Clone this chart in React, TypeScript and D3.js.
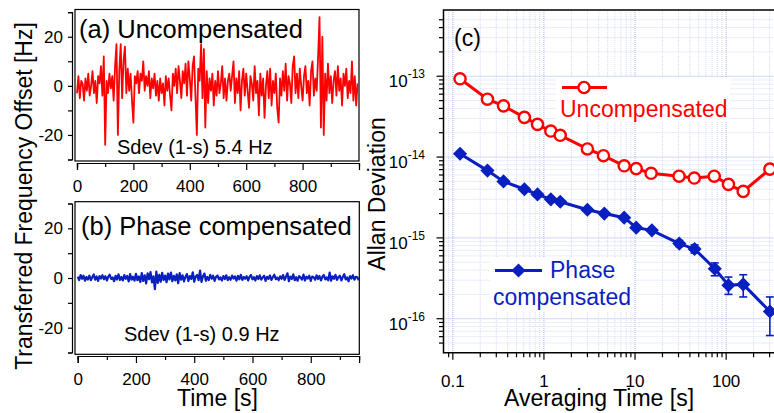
import React, { useEffect, useRef } from 'react';
import * as d3 from 'd3';

const FONT = '"Liberation Sans", Arial, Helvetica, sans-serif';
const RED = '#ff0000';
const BLUE = '#0a1fbf';

// frequency offset traces, one value every 5 s
const sampleStep = 5;
const uncompOffset = [
	-3, 4, -5, 2, 1, -6, 3, -2, 5, -4, 0, 6, -3, 2, -7, 4, 1, 8, -4, 12,
	-24, 2, -3, 5, -1, 4, -6, 8, 17, -20, 6, 17, -5, 10, 16, -3, 7, -2, 5, -6,
	-15, 4, 1, 6, -3, 5, 2, 10, -2, 4, 0, 6, -5, 3, -1, 5, -4, 2, -6, 3,
	-3, 1, -8, 4, -2, 3, -4, -10, 5, 0, 7, -3, 8, 2, -5, 6, 1, 9, -4, 10,
	3, -6, 8, 12, -4, -20, 7, 2, 17, -5, 15, -17, 6, -7, 3, -2, 5, -8, 2, -4,
	6, -3, 1, 8, -5, 3, -6, 2, 5, -2, 4, 10, -7, 3, -3, 6, -10, 2, 7, -4,
	5, -2, -9, 4, 1, -6, 8, -3, 2, -12, 5, -4, 3, -13, 0, 6, -5, 7, -8, 2,
	-3, 5, -9, -15, 3, -4, 6, -2, 9, -6, 4, 1, -7, 8, 12, -3, 5, -5, 7, 0,
	-6, 4, 8, -3, 2, -8, 6, 10, -4, 3, -2, 12, 28, -17, 20, -20, 5, -6, 9, -3,
	4, -7, 2, 6, -4, 8, -2, 3, -8, 5, 0, 7, -5, 2, -3, 10, -6, 4, -8, 1,
];
const compOffset = [
	0.5, -0.8, 1.2, -0.3, 0.9, -1.1, 0.4, -0.6, 1.0, -0.9, 0.3, 1.4, -0.7, 0.6, -1.2, 0.8, -0.2, 1.1, -0.5, 0.7,
	-1.0, 0.5, 1.3, -0.4, 0.2, -1.3, 0.9, -0.6, 1.5, -0.8, 0.4, -1.0, 1.2, -0.3, 0.8, -1.4, 1.6, -0.7, 0.5, -1.1,
	1.7, -0.9, 0.6, -1.6, 2.0, -1.2, 1.1, -2.2, 1.9, -0.5, 2.4, -1.8, 0.7, -4.5, 2.6, -2.0, 1.3, -1.5, 2.1, -0.8,
	1.0, -1.7, 1.8, -0.6, 2.2, -1.3, 0.9, -1.0, 1.5, -2.1, 2.0, -0.7, 1.1, -1.4, 0.5, 1.6, -1.2, 0.8, -0.4, 2.3,
	-1.5, 0.6, 1.2, -0.9, 3.0, -1.6, 0.7, 1.8, -1.1, 0.4, -0.8, 1.3, -0.3, 0.9, -1.2, 0.5, 1.0, -0.6, 0.2, -1.0,
	0.8, -0.4, 1.1, -0.9, 0.3, -0.7, 1.0, -0.2, 0.6, -1.1, 0.9, -0.5, 1.3, -0.8, 0.4, -0.3, 0.7, -1.0, 0.5, 1.2,
	-0.6, 0.3, -1.0, 0.8, -0.4, 1.1, -0.7, 0.2, 0.9, -1.2, 0.5, -0.3, 1.0, -0.8, 0.4, 1.3, -0.5, 0.2, -0.9, 0.7,
	-0.3, 1.2, -0.8, 0.5, 1.9, -1.3, 0.6, -0.4, 1.5, -0.9, 0.3, -1.1, 0.8, 0.2, -0.6, 1.4, -1.0, 0.5, -0.2, 0.9,
	-1.2, 0.6, 0.3, -0.7, 1.1, -0.4, 0.8, -1.0, 0.5, 1.2, -0.6, 0.2, -0.9, 2.2, -1.1, 0.7, -0.3, 1.3, -0.8, 0.4,
	0.9, -1.0, 0.4, 1.5, -0.6, 0.2, -1.3, 0.8, -0.2, 1.1, -0.7, 0.5, 0.3, -0.9,
];
const timeTicks = [0, 200, 400, 600, 800];
const offsetTicks = [-20, 0, 20];

// Allan deviation
const tauUncomp = [0.12, 0.24, 0.36, 0.61, 0.85, 1.19, 1.51, 3.0, 4.5, 7.6, 10.3, 15, 30.4, 44.7, 74, 106, 154, 302];
const adevUncomp = [
	9.3e-14, 5.2e-14, 4.3e-14, 3.1e-14, 2.54e-14, 2.1e-14, 1.86e-14, 1.26e-14, 1.04e-14,
	7.8e-15, 7.2e-15, 6.3e-15, 5.8e-15, 5.5e-15, 5.8e-15, 4.6e-15, 3.76e-15, 7.1e-15,
];
const tauComp = [0.12, 0.24, 0.36, 0.61, 0.85, 1.19, 1.51, 3.0, 4.6, 7.6, 10.3, 15.3, 30.6, 45, 75, 106, 154, 302];
const adevComp = [
	1.1e-14, 6.8e-15, 5.0e-15, 4.0e-15, 3.45e-15, 3.0e-15, 2.8e-15, 2.23e-15, 2.0e-15,
	1.78e-15, 1.34e-15, 1.24e-15, 8.5e-16, 7.3e-16, 4.15e-16, 2.59e-16, 2.66e-16, 1.23e-16,
];
const errTau = [30.6, 45, 75, 106, 154, 302];
const errLow = [7.8e-16, 6.5e-16, 3.4e-16, 2.0e-16, 1.86e-16, 6.2e-17];
const errHigh = [9.3e-16, 8.2e-16, 4.9e-16, 3.28e-16, 3.5e-16, 1.86e-16];
const tauTicks = [0.1, 1, 10, 100];
const tauTickLabels = ['0.1', '1', '10', '100'];
const adevDecades = [-16, -15, -14, -13];

function drawTrace(svg, p) {
	const x = d3.scaleLinear().domain([0, p.xMax]).range(p.xRange);
	const y = d3.scaleLinear().domain([-30, 30]).range(p.yRange);
	const g = svg.append('g');

	g.append('rect')
		.attr('x', p.frame[0])
		.attr('y', p.frame[1])
		.attr('width', p.frame[2] - p.frame[0])
		.attr('height', p.frame[3] - p.frame[1])
		.attr('fill', 'none')
		.attr('stroke', '#000')
		.attr('stroke-width', 1.2);

	const line = d3
		.line()
		.x((d, i) => x(i * sampleStep))
		.y(d => y(d));
	g.append('path')
		.datum(p.values)
		.attr('d', line)
		.attr('fill', 'none')
		.attr('stroke', p.color)
		.attr('stroke-width', p.lineWidth)
		.attr('stroke-linejoin', 'round');

	// left axis, all 10 Hz ticks, labels every 20
	const yAxis = d3
		.axisLeft(y)
		.tickValues(d3.range(-30, 31, 10))
		.tickSize(4)
		.tickPadding(5)
		.tickFormat(d => (offsetTicks.includes(d) ? String(d) : ''));
	g.append('g').attr('transform', `translate(${p.axisX},0)`).call(yAxis);

	const xMinor = d3
		.axisBottom(x)
		.tickValues(d3.range(100, p.xMax, 200))
		.tickSize(4)
		.tickFormat(() => '');
	g.append('g').attr('transform', `translate(0,${p.axisY})`).call(xMinor);
	const xAxis = d3.axisBottom(x).tickValues(timeTicks).tickSize(7).tickPadding(10);
	g.append('g').attr('transform', `translate(0,${p.axisY})`).call(xAxis);

	g.selectAll('.domain').attr('stroke', '#000').attr('stroke-width', 1.2);
	g.selectAll('.tick line').attr('stroke', '#000').attr('stroke-width', 1.2);
	g.selectAll('.tick text').attr('font-size', 17).attr('font-family', FONT).attr('fill', '#000');

	g.append('text')
		.attr('x', p.titlePos[0])
		.attr('y', p.titlePos[1])
		.attr('font-size', 25.5)
		.text(p.title);
	g.append('text')
		.attr('x', p.sdevPos[0])
		.attr('y', p.sdevPos[1])
		.attr('font-size', 20)
		.text(p.sdev);
}

function drawAllan(svg) {
	const x = d3.scaleLog().domain([0.08, 400]).range([444, 781]);
	const y = d3.scaleLog().domain([3.8e-17, 6.6e-13]).range([352.7, 10]);
	const left = 443.5,
		top = 10,
		bottom = 352.7,
		right = 774;
	const g = svg.append('g');

	// minor positions 1..9 x decade
	const xGrid = [];
	for (let n = -2; n <= 2; n++) for (let k = 1; k <= 9; k++) xGrid.push(k * Math.pow(10, n));
	const xMinor = xGrid.filter(v => v > 0.085 && v < 400);
	const yGrid = [];
	for (let n = -17; n <= -13; n++) for (let k = 1; k <= 9; k++) yGrid.push(k * Math.pow(10, n));
	const yMinor = yGrid.filter(v => v > 4.5e-17 && v < 6e-13);
	const isDecade = d => Math.abs(Math.log10(d) - Math.round(Math.log10(d))) < 1e-6;

	const grid = g.append('g').attr('stroke-dasharray', '1,1').attr('stroke-width', 1);
	grid.selectAll('.gx')
		.data(xMinor)
		.enter()
		.append('line')
		.attr('x1', d => x(d))
		.attr('x2', d => x(d))
		.attr('y1', top)
		.attr('y2', bottom)
		.attr('stroke', d => (isDecade(d) ? '#a4b3ec' : '#d3daf5'));
	grid.selectAll('.gy')
		.data(yMinor)
		.enter()
		.append('line')
		.attr('x1', left)
		.attr('x2', right)
		.attr('y1', d => y(d))
		.attr('y2', d => y(d))
		.attr('stroke', d => (isDecade(d) ? '#a4b3ec' : '#d3daf5'));

	// axes
	g.append('path')
		.attr('d', `M${right},${top}H${left}V${bottom}H${right}`)
		.attr('fill', 'none')
		.attr('stroke', '#000')
		.attr('stroke-width', 1.5);
	g.selectAll('.ty')
		.data(yMinor)
		.enter()
		.append('line')
		.attr('x1', left)
		.attr('x2', d => (isDecade(d) ? left - 7 : left - 4.5))
		.attr('y1', d => y(d))
		.attr('y2', d => y(d))
		.attr('stroke', '#000')
		.attr('stroke-width', 1.2);
	g.selectAll('.tx')
		.data(xMinor)
		.enter()
		.append('line')
		.attr('x1', d => x(d))
		.attr('x2', d => x(d))
		.attr('y1', bottom)
		.attr('y2', d => (isDecade(d) ? bottom + 7 : bottom + 4.5))
		.attr('stroke', '#000')
		.attr('stroke-width', 1.2);

	g.selectAll('.lx')
		.data(tauTicks)
		.enter()
		.append('text')
		.attr('x', d => x(d))
		.attr('y', 386.5)
		.attr('text-anchor', 'middle')
		.attr('font-size', 17)
		.text((d, i) => tauTickLabels[i]);
	const yl = g
		.selectAll('.ly')
		.data(adevDecades)
		.enter()
		.append('text')
		.attr('x', 425)
		.attr('y', d => y(Math.pow(10, d)) + 11)
		.attr('text-anchor', 'end')
		.attr('font-size', 17);
	yl.append('tspan').text('10');
	yl.append('tspan')
		.attr('dy', -9)
		.attr('font-size', 12)
		.text(d => String(d));

	// legend boxes
	g.append('rect').attr('x', 556).attr('y', 77).attr('width', 174).attr('height', 45).attr('fill', '#fff');
	g.append('rect').attr('x', 490).attr('y', 257).attr('width', 144).attr('height', 54).attr('fill', '#fff');

	const line = d3
		.line()
		.x(d => x(d[0]))
		.y(d => y(d[1]));
	const red = tauUncomp.map((t, i) => [t, adevUncomp[i]]);
	const blue = tauComp.map((t, i) => [t, adevComp[i]]);

	g.append('path')
		.datum(blue)
		.attr('d', line)
		.attr('fill', 'none')
		.attr('stroke', BLUE)
		.attr('stroke-width', 3);
	const eb = g.append('g').attr('stroke', BLUE).attr('stroke-width', 1.6);
	errTau.forEach((t, i) => {
		const cx = x(t);
		eb.append('line').attr('x1', cx).attr('x2', cx).attr('y1', y(errLow[i])).attr('y2', y(errHigh[i]));
		eb.append('line').attr('x1', cx - 4).attr('x2', cx + 4).attr('y1', y(errLow[i])).attr('y2', y(errLow[i]));
		eb.append('line').attr('x1', cx - 4).attr('x2', cx + 4).attr('y1', y(errHigh[i])).attr('y2', y(errHigh[i]));
	});
	const diamond = d3.symbol(d3.symbolSquare, 100)();
	g.selectAll('.dm')
		.data(blue)
		.enter()
		.append('path')
		.attr('d', diamond)
		.attr('transform', d => `translate(${x(d[0])},${y(d[1])}) rotate(45)`)
		.attr('fill', BLUE);

	g.append('path')
		.datum(red)
		.attr('d', line)
		.attr('fill', 'none')
		.attr('stroke', RED)
		.attr('stroke-width', 3);
	g.selectAll('.cm')
		.data(red)
		.enter()
		.append('circle')
		.attr('cx', d => x(d[0]))
		.attr('cy', d => y(d[1]))
		.attr('r', 5.6)
		.attr('fill', '#fff')
		.attr('stroke', RED)
		.attr('stroke-width', 2.4);

	// legends
	g.append('line').attr('x1', 562).attr('x2', 607).attr('y1', 87.5).attr('y2', 87.5).attr('stroke', RED).attr('stroke-width', 3);
	g.append('circle').attr('cx', 584).attr('cy', 87.5).attr('r', 5.6).attr('fill', '#fff').attr('stroke', RED).attr('stroke-width', 2.4);
	g.append('text').attr('x', 560).attr('y', 116.5).attr('font-size', 23).attr('fill', RED).text('Uncompensated');

	g.append('line').attr('x1', 495).attr('x2', 542).attr('y1', 270.5).attr('y2', 270.5).attr('stroke', BLUE).attr('stroke-width', 3);
	g.append('path').attr('d', diamond).attr('transform', 'translate(518.5,270.5) rotate(45)').attr('fill', BLUE);
	g.append('text').attr('x', 550).attr('y', 278).attr('font-size', 23).attr('fill', BLUE).text('Phase');
	g.append('text').attr('x', 493).attr('y', 304.5).attr('font-size', 23).attr('fill', BLUE).text('compensated');

	g.append('text').attr('x', 454).attr('y', 46).attr('font-size', 23).text('(c)');
	g.append('text').attr('x', 599).attr('y', 406).attr('text-anchor', 'middle').attr('font-size', 23).text('Averaging Time [s]');
	g.append('text')
		.attr('transform', 'translate(385,194) rotate(-90)')
		.attr('text-anchor', 'middle')
		.attr('font-size', 23)
		.text('Allan Deviation');
}

export default function App() {
	const ref = useRef(null);

	useEffect(() => {
		const svg = d3.select(ref.current);
		svg.selectAll('*').remove();
		svg.attr('font-family', FONT);

		drawTrace(svg, {
			values: uncompOffset,
			xMax: 1000,
			xRange: [77, 359],
			yRange: [159.5, 12.2],
			frame: [75, 9.5, 359, 161],
			axisX: 72,
			axisY: 163,
			color: RED,
			lineWidth: 1.8,
			title: '(a) Uncompensated',
			titlePos: [79, 37.5],
			sdev: 'Sdev (1-s) 5.4 Hz',
			sdevPos: [117, 154],
		});
		drawTrace(svg, {
			values: compOffset,
			xMax: 966,
			xRange: [77.7, 359.1],
			yRange: [352.5, 203.5],
			frame: [75, 201.7, 359.3, 354.3],
			axisX: 72,
			axisY: 356,
			color: BLUE,
			lineWidth: 2.2,
			title: '(b) Phase compensated',
			titlePos: [81, 235],
			sdev: 'Sdev (1-s) 0.9 Hz',
			sdevPos: [124, 340.5],
		});

		svg.append('text')
			.attr('transform', 'translate(32,196) rotate(-90)')
			.attr('text-anchor', 'middle')
			.attr('font-size', 23)
			.text('Transferred Frequency Offset [Hz]');
		svg.append('text')
			.attr('x', 217.5)
			.attr('y', 406)
			.attr('text-anchor', 'middle')
			.attr('font-size', 23)
			.text('Time [s]');

		drawAllan(svg);
	}, []);

	return (
		<svg
			ref={ref}
			width={774}
			height={413}
			style={{ position: 'absolute', left: 0, top: 0, background: '#fff' }}
		/>
	);
}
